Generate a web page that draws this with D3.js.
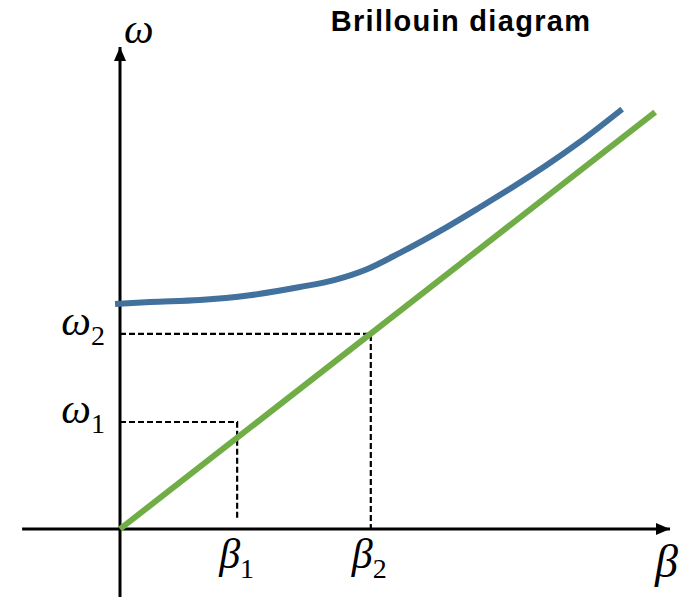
<!DOCTYPE html>
<html>
<head>
<meta charset="utf-8">
<script src="https://cdn.jsdelivr.net/npm/d3@7"></script>
<style>
  body { margin: 0; background: #fff; }
</style>
</head>
<body>
<svg id="body" width="693" height="598"></svg>
<script>
// dispersion curves, in plot units (beta along x, omega up y)
let lightBeta = [0, 9.73];
let lightOmega = [0, 8.65];

let waveBeta  = [-0.09, 0.55, 1.45, 2.36, 3.27, 3.91, 4.49, 5.09, 5.95, 6.55, 7.15, 7.76, 8.36, 9.13];
let waveOmega = [4.67, 4.71, 4.75, 4.85, 5.02, 5.17, 5.39, 5.73, 6.27, 6.68, 7.10, 7.55, 8.03, 8.71];

// operating points marked with dashed guides
let points = [
  {beta: 2.13, omega: 2.22, omegaEnd: 0.23, sub: "1"},
  {beta: 4.56, omega: 4.05, omegaEnd: 0, sub: "2"}
];

let axisBeta = [-1.78, 10];
let axisOmega = [-1.41, 10];

let svg = d3.select("#body");

let x = d3.scaleLinear().domain([0, 10]).range([120, 670]);
let y = d3.scaleLinear().domain([0, 10]).range([529, 47]);

// arrow head
svg.append("defs").append("marker")
   .attr("id", "arrow")
   .attr("markerUnits", "userSpaceOnUse")
   .attr("viewBox", "0 0 14 12")
   .attr("refX", 14).attr("refY", 6)
   .attr("markerWidth", 14).attr("markerHeight", 12)
   .attr("orient", "auto")
   .append("path")
   .attr("d", "M0,0L14,6L0,12Z")
   .attr("fill", "#000");

// axes
svg.append("line")
   .attr("x1", x(axisBeta[0])).attr("x2", x(axisBeta[1]))
   .attr("y1", y(0)).attr("y2", y(0))
   .attr("stroke", "#000").attr("stroke-width", 3)
   .attr("marker-end", "url(#arrow)");

svg.append("line")
   .attr("x1", x(0)).attr("x2", x(0))
   .attr("y1", y(axisOmega[0])).attr("y2", y(axisOmega[1]))
   .attr("stroke", "#000").attr("stroke-width", 3)
   .attr("marker-end", "url(#arrow)");

// dashed guides
points.forEach(p => {
  svg.append("path")
     .attr("d", `M${x(0)},${y(p.omega)}H${x(p.beta)}V${y(p.omegaEnd)}`)
     .attr("fill", "none")
     .attr("stroke", "#000")
     .attr("stroke-width", 2.2)
     .attr("stroke-dasharray", "6,3");
});

let line = d3.line()
             .x(d => x(d[0]))
             .y(d => y(d[1]))
             .curve(d3.curveMonotoneX);

svg.append("path")
   .attr("d", line(d3.zip(waveBeta, waveOmega)))
   .attr("fill", "none")
   .attr("stroke", "#41719C")
   .attr("stroke-width", 6);

svg.append("path")
   .attr("d", line(d3.zip(lightBeta, lightOmega)))
   .attr("fill", "none")
   .attr("stroke", "#70AD47")
   .attr("stroke-width", 6);

// labels
let serif = "'Liberation Serif', 'Times New Roman', serif";

function greek(sym, sub, px, py, anchor, size) {
  let t = svg.append("text")
             .attr("x", px).attr("y", py)
             .attr("text-anchor", anchor)
             .attr("font-family", serif)
             .attr("font-size", size || 42);
  t.append("tspan").attr("font-style", "italic").text(sym);
  if (sub) {
    t.append("tspan").attr("font-size", 28).attr("dy", 10).text(sub);
  }
}

greek("ω", null, 124, 43, "start");
greek("β", null, 655, 577, "start", 46);

points.forEach(p => {
  greek("ω", p.sub, 105, y(p.omega) + 1, "end");
  greek("β", p.sub, x(p.beta) - 18 + (p.sub == "2" ? -1 : 0), 568, "start");
});

svg.append("text")
   .attr("x", 461).attr("y", 31)
   .attr("text-anchor", "middle")
   .attr("font-family", "'Liberation Sans', Arial, sans-serif")
   .attr("font-weight", "bold")
   .attr("font-size", 29)
   .attr("letter-spacing", 1.3)
   .text("Brillouin diagram");
</script>
</body>
</html>
